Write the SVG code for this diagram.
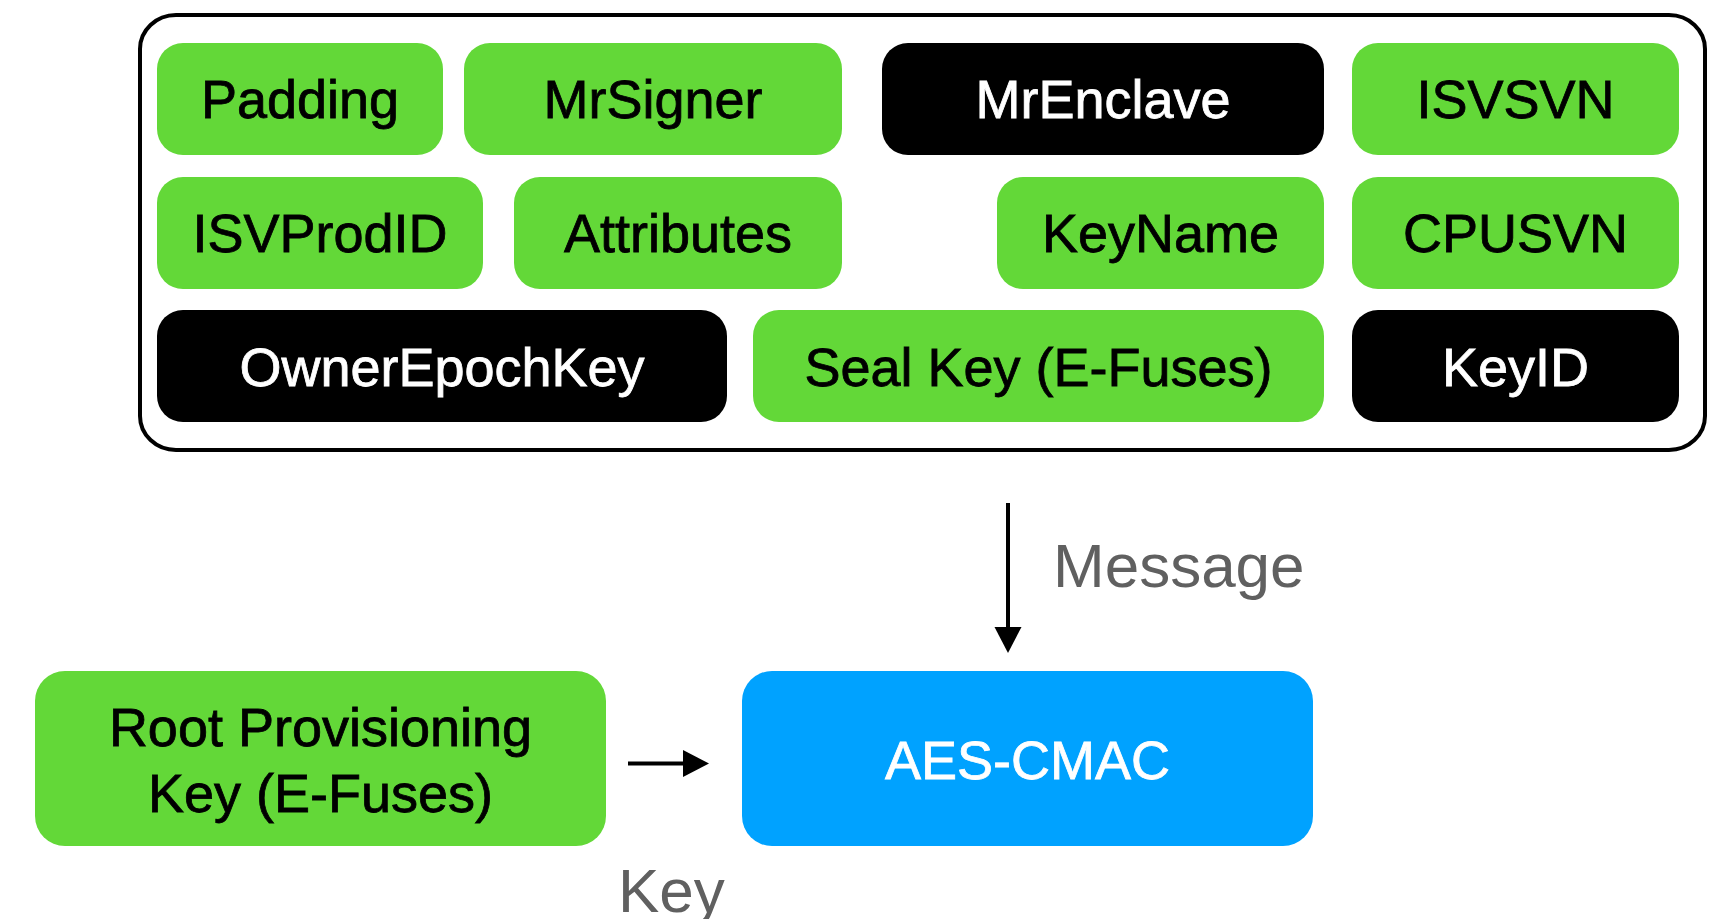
<svg xmlns="http://www.w3.org/2000/svg" width="1720" height="919" viewBox="0 0 1720 919">
<style>
  .g { fill: #63D838; }
  .k { fill: #000000; }
  .b { fill: #00A2FF; }
  .t { font-family: "Liberation Sans", Arial, Helvetica, sans-serif; font-size: 54px; text-anchor: middle; stroke-width: 0.8; }
  .tb { fill: #000000; stroke: #000000; }
  .tw { fill: #FFFFFF; stroke: #FFFFFF; }
  .lbl { font-family: "Liberation Sans", Arial, Helvetica, sans-serif; font-size: 62px; fill: #606060; }
  .edge { stroke: #000000; stroke-width: 4; fill: none; }
</style>
<defs>
  <marker id="ah" markerUnits="userSpaceOnUse" markerWidth="26" markerHeight="28" refX="1" refY="13.5" orient="auto">
    <path d="M0,0 L26,13.5 L0,27 z" fill="#000000"/>
  </marker>
</defs>
<rect width="1720" height="919" fill="#FFFFFF"/>

<g id="container">
  <rect x="140" y="15" width="1565" height="435" rx="36" ry="34" fill="#FFFFFF" stroke="#000000" stroke-width="4"/>
</g>

<g id="padding">
  <rect class="g" x="157" y="43" width="286" height="112" rx="26"/>
  <text class="t tb" x="300" y="118">Padding</text>
</g>
<g id="mrsigner">
  <rect class="g" x="464" y="43" width="378" height="112" rx="26"/>
  <text class="t tb" x="653" y="118">MrSigner</text>
</g>
<g id="mrenclave">
  <rect class="k" x="882" y="43" width="442" height="112" rx="26"/>
  <text class="t tw" x="1103" y="118">MrEnclave</text>
</g>
<g id="isvsvn">
  <rect class="g" x="1352" y="43" width="327" height="112" rx="26"/>
  <text class="t tb" x="1515.5" y="118">ISVSVN</text>
</g>

<g id="isvprodid">
  <rect class="g" x="157" y="177" width="326" height="112" rx="26"/>
  <text class="t tb" x="320" y="252">ISVProdID</text>
</g>
<g id="attributes">
  <rect class="g" x="514" y="177" width="328" height="112" rx="26"/>
  <text class="t tb" x="678" y="252">Attributes</text>
</g>
<g id="keyname">
  <rect class="g" x="997" y="177" width="327" height="112" rx="26"/>
  <text class="t tb" x="1160.5" y="252">KeyName</text>
</g>
<g id="cpusvn">
  <rect class="g" x="1352" y="177" width="327" height="112" rx="26"/>
  <text class="t tb" x="1515.5" y="252">CPUSVN</text>
</g>

<g id="ownerepochkey">
  <rect class="k" x="157" y="310" width="570" height="112" rx="26"/>
  <text class="t tw" x="442" y="386">OwnerEpochKey</text>
</g>
<g id="sealkey">
  <rect class="g" x="753" y="310" width="571" height="112" rx="26"/>
  <text class="t tb" x="1038.5" y="386">Seal Key (E-Fuses)</text>
</g>
<g id="keyid">
  <rect class="k" x="1352" y="310" width="327" height="112" rx="26"/>
  <text class="t tw" x="1515.5" y="386">KeyID</text>
</g>

<g id="rootkey">
  <rect class="g" x="35" y="671" width="571" height="175" rx="30"/>
  <text class="t tb" x="320.5" y="746">Root Provisioning</text>
  <text class="t tb" x="320.5" y="812">Key (E-Fuses)</text>
</g>
<g id="aescmac">
  <rect class="b" x="742" y="671" width="571" height="175" rx="30"/>
  <text class="t tw" x="1027.5" y="779">AES-CMAC</text>
</g>

<g id="connectors">
  <line class="edge" x1="1008" y1="503" x2="1008" y2="628" marker-end="url(#ah)"/>
  <line class="edge" x1="628" y1="763.5" x2="684" y2="763.5" marker-end="url(#ah)"/>
  <text class="lbl" x="1053" y="587">Message</text>
  <text class="lbl" x="618" y="912">Key</text>
</g>
</svg>
